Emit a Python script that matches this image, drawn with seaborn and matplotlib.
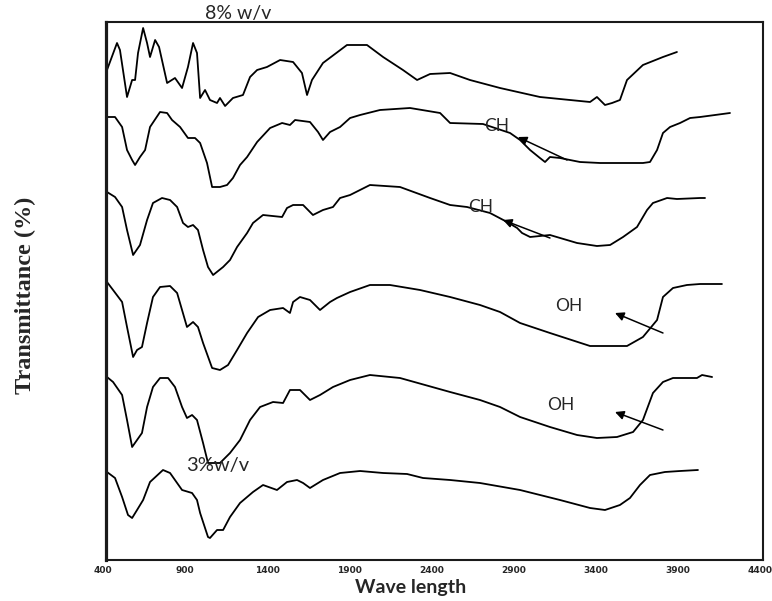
import matplotlib
matplotlib.use("Agg")
import matplotlib.pyplot as plt
import numpy as np
import pandas as pd
import seaborn as sns

# ---- data (wavenumber, stacked transmittance, arbitrary offset units) ----
wn_8 = [424, 485, 503, 546, 577, 595, 613, 644, 668, 686, 717, 741, 790, 838, 881, 917, 948, 972, 991,
        1021, 1051, 1094, 1112, 1143, 1191, 1252, 1295, 1338, 1398, 1478, 1557, 1611, 1642, 1672, 1739,
        1885, 2007, 2105, 2226, 2312, 2391, 2513, 2634, 2817, 3060, 3243, 3365, 3407, 3456, 3499, 3547,
        3590, 3687, 3809, 3894]
t_8 = [490, 517, 510, 463, 480, 480, 507, 532, 517, 503, 520, 513, 477, 482, 472, 493, 517, 507, 462,
       470, 460, 457, 462, 454, 462, 465, 483, 490, 493, 500, 498, 487, 465, 480, 497,
       515, 515, 503, 490, 480, 486, 487, 480, 472, 463, 460, 458, 463, 455, 457, 460,
       480, 495, 503, 508]

wn_7 = [424, 473, 516, 546, 577, 595, 625, 656, 686, 747, 790, 820, 869, 917, 960, 991, 1033, 1064,
        1112, 1155, 1191, 1234, 1277, 1338, 1417, 1490, 1538, 1569, 1660, 1709, 1739, 1782, 1843, 1904,
        1965, 2086, 2269, 2452, 2513, 2713, 2878, 2939, 3000, 3060, 3091, 3121, 3182, 3304, 3426, 3566,
        3687, 3730, 3773, 3809, 3852, 3913, 3974, 4035, 4217]
t_7 = [443, 443, 433, 410, 400, 395, 403, 410, 433, 448, 447, 440, 433, 422, 422, 417, 397, 373,
       373, 375, 382, 395, 403, 418, 432, 437, 435, 440, 438, 428, 420, 428, 433, 442,
       445, 450, 452, 447, 437, 436, 427, 420, 410, 402, 398, 403, 402, 398, 397, 397,
       397, 398, 410, 427, 433, 437, 442, 443, 447]

wn_6 = [424, 473, 516, 546, 583, 625, 668, 704, 759, 808, 851, 887, 917, 948, 978, 1009, 1039, 1070,
        1131, 1173, 1216, 1277, 1313, 1374, 1490, 1520, 1557, 1618, 1678, 1739, 1800, 1843, 1904, 2025,
        2208, 2391, 2513, 2616, 2756, 2860, 2921, 2951, 3000, 3121, 3286, 3407, 3487, 3566, 3651, 3712,
        3748, 3834, 3894, 4035, 4065]
t_6 = [368, 363, 353, 330, 305, 315, 340, 357, 362, 360, 353, 337, 333, 335, 330, 310, 293, 285,
       293, 300, 313, 327, 337, 345, 343, 352, 355, 355, 345, 350, 353, 362, 365, 375,
       373, 362, 355, 353, 347, 338, 332, 327, 323, 325, 317, 314, 315, 323, 333, 350,
       357, 362, 361, 362, 362]

wn_5 = [424, 461, 516, 546, 583, 607, 637, 668, 704, 747, 808, 851, 881, 911, 948, 978, 1009, 1064,
        1112, 1161, 1216, 1277, 1344, 1417, 1496, 1538, 1557, 1599, 1660, 1721, 1782, 1824, 1904, 2025,
        2147, 2330, 2513, 2695, 2817, 2939, 3121, 3365, 3590, 3687, 3773, 3809, 3870, 3955, 4035, 4168]
t_5 = [278, 270, 258, 233, 203, 210, 213, 237, 263, 273, 274, 267, 250, 233, 238, 233, 217, 192,
       190, 195, 210, 227, 243, 250, 252, 247, 258, 263, 260, 250, 258, 262, 268, 275,
       275, 270, 263, 255, 248, 237, 227, 214, 214, 223, 240, 263, 272, 275, 276, 276]

wn_4 = [424, 461, 516, 546, 577, 607, 637, 668, 704, 747, 796, 838, 881, 911, 942, 972, 1009, 1039,
        1112, 1173, 1234, 1295, 1356, 1435, 1496, 1538, 1599, 1660, 1721, 1800, 1904, 2025, 2208, 2513,
        2695, 2817, 2939, 3121, 3286, 3407, 3529, 3627, 3687, 3748, 3809, 3870, 4016, 4047, 4108]
t_4 = [183, 178, 165, 140, 113, 120, 127, 153, 173, 182, 182, 173, 153, 142, 145, 140, 117, 97,
       97, 107, 120, 140, 153, 158, 157, 170, 170, 160, 165, 173, 180, 185, 182, 168,
       160, 153, 143, 133, 125, 122, 123, 128, 140, 167, 178, 182, 182, 185, 183]

wn_3 = [424, 473, 516, 552, 577, 607, 644, 686, 765, 808, 881, 942, 972, 991, 1039, 1051, 1094, 1131,
        1173, 1234, 1313, 1374, 1459, 1520, 1581, 1618, 1660, 1739, 1843, 1965, 2105, 2251, 2348, 2513,
        2695, 2939, 3182, 3365, 3456, 3547, 3608, 3669, 3730, 3821, 3913, 4022]
t_3 = [88, 82, 63, 45, 42, 50, 60, 78, 90, 87, 70, 67, 60, 47, 23, 22, 30, 30,
       43, 57, 68, 75, 70, 78, 80, 77, 72, 80, 87, 89, 87, 86, 82, 80,
       77, 70, 60, 52, 50, 55, 62, 75, 85, 88, 89, 90]

sample_ids = ["8% w/v", "7% w/v", "6% w/v", "5% w/v", "4% w/v", "3% w/v"]
wn_series = [wn_8, wn_7, wn_6, wn_5, wn_4, wn_3]
t_series = [t_8, t_7, t_6, t_5, t_4, t_3]

tick_values = [400, 900, 1400, 1900, 2400, 2900, 3400, 3900, 4400]
tick_labels = [str(v) for v in tick_values]

# annotations: (text, x, y, size)
labels_text = [("8% w/v", 1220, 546, 14), ("3%w/v", 1100, 95, 14.5),
               ("CH", 2799, 434, 12.5), ("CH", 2701, 353, 12.5),
               ("OH", 3237, 254, 12.5), ("OH", 3188, 155, 12.5)]
# arrows: (head_x, head_y, tail_x, tail_y)
arrows = [(2926, 423, 3225, 400), (2835, 340, 3121, 322),
          (3517, 247, 3809, 227), (3517, 148, 3809, 130)]

# ---- build long-form frame ----
frames = []
for sid, xs, ys in zip(sample_ids, wn_series, t_series):
    frames.append(pd.DataFrame({"wavenumber": xs, "T": ys, "sample": sid}))
df = pd.concat(frames, ignore_index=True)

sns.set_style("white")
plt.rcParams["font.family"] = ["Lato", "DejaVu Sans"]

fig = plt.figure(figsize=(7.72, 6.01), dpi=100)
ax = fig.add_axes([106 / 772, 1 - 560 / 601, 657 / 772, 538 / 601])

sns.lineplot(data=df, x="wavenumber", y="T", hue="sample", hue_order=sample_ids,
             palette=["black"] * len(sample_ids), estimator=None, sort=False,
             legend=False, linewidth=1.3, ax=ax)

ax.set_xlim(418, 4418)
ax.set_ylim(0, 538)
ax.set_xticks([])
ax.set_yticks([])

for side, sp in ax.spines.items():
    sp.set_visible(True)
    sp.set_color("#1a1a1a")
    sp.set_linewidth(1.5)
ax.spines["left"].set_linewidth(2.3)

for v, lab in zip(tick_values, tick_labels):
    ax.text(v, -0.012, lab, transform=ax.get_xaxis_transform(), ha="center", va="top",
            fontsize=6.5, fontweight="bold", family="DejaVu Sans", clip_on=False)

ax.set_xlabel("Wave length", fontsize=14, fontweight="bold")
ax.xaxis.set_label_coords(0.463, -0.035)
ax.set_ylabel("Transmittance (%)", fontsize=17.5, fontweight="bold",
              family="Liberation Serif")
ax.yaxis.set_label_coords(-0.107, 0.4926)

for txt, x, y, fs in labels_text:
    ax.text(x, y, txt, ha="center", va="center", fontsize=fs, clip_on=False)

for hx, hy, tx, ty in arrows:
    ax.annotate("", xy=(hx, hy), xytext=(tx, ty),
                arrowprops=dict(arrowstyle="-|>", color="black", lw=1.1,
                                mutation_scale=13, shrinkA=0, shrinkB=0))

fig.savefig("out.png", dpi=100)
